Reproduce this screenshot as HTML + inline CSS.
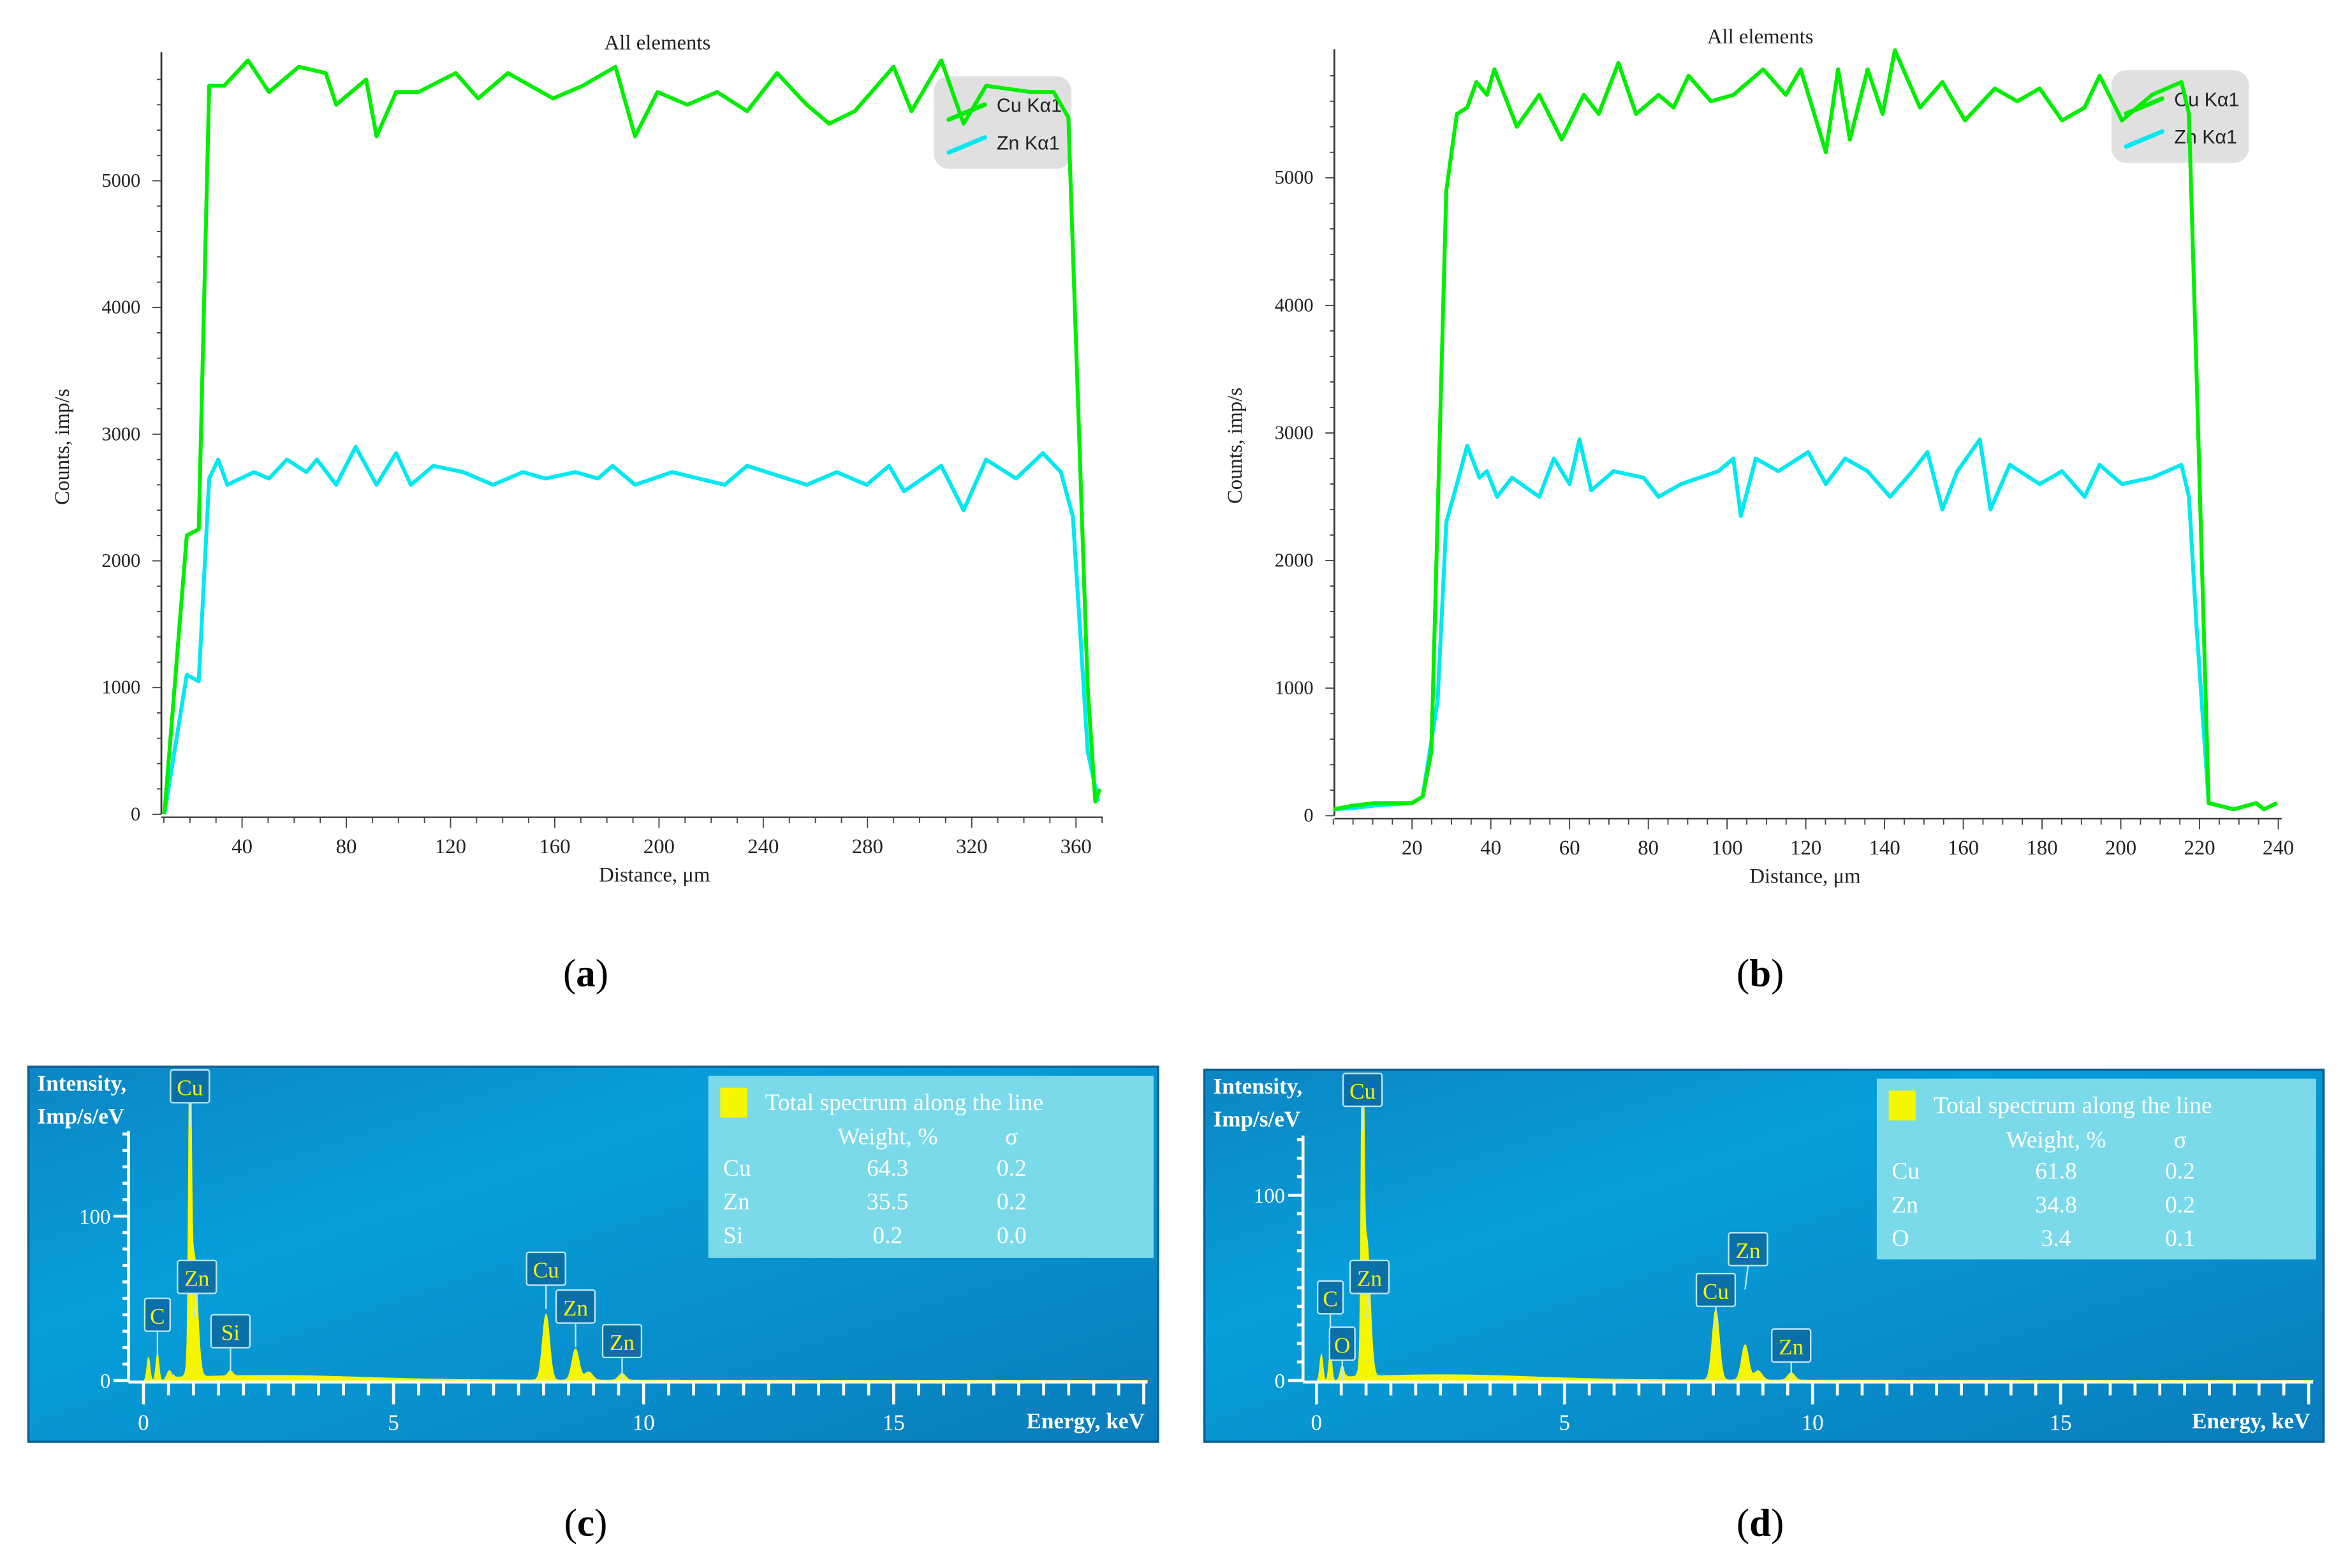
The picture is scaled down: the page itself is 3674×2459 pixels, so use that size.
<!DOCTYPE html>
<html><head><meta charset="utf-8"><style>
html,body{margin:0;padding:0;background:#fff;}
svg{display:block;}
</style></head><body>
<svg id="root" xmlns="http://www.w3.org/2000/svg" width="3674" height="2459" viewBox="0 0 1568 1049.5" preserveAspectRatio="none">
<defs>
<linearGradient id="bg" x1="0" y1="0" x2="1" y2="1">
<stop offset="0" stop-color="#0c86c4"/><stop offset="0.35" stop-color="#069fda"/><stop offset="1" stop-color="#0a7cbc"/>
</linearGradient>
</defs>
<g id="panelA"></g>
<g id="panelB"></g>
<g id="panelC"></g>
<g id="panelD"></g>
<text x="392" y="660" font-family="Liberation Serif, serif" font-size="26" text-anchor="middle">(<tspan font-weight="bold">a</tspan>)</text>
<text x="1178" y="660" font-family="Liberation Serif, serif" font-size="26" text-anchor="middle">(<tspan font-weight="bold">b</tspan>)</text>
<text x="392" y="1028" font-family="Liberation Serif, serif" font-size="26" text-anchor="middle">(<tspan font-weight="bold">c</tspan>)</text>
<text x="1178" y="1028" font-family="Liberation Serif, serif" font-size="26" text-anchor="middle">(<tspan font-weight="bold">d</tspan>)</text>
</svg>
<script>
// ---- Panel A data ----
const aCuX=[10.2,18.8,23.4,27.4,33.1,42.3,50.3,61.8,72.1,76.1,87.6,91.6,99.1,107.7,122,130.6,142,159.3,170.7,183.3,190.8,199.4,210.9,222.3,233.8,245.3,256.7,265.3,275.1,290,296.9,308.3,316.9,325.5,342.7,351.4,357.1,364.5,367.4,369.1];
const aCuY=[0,2200,2250,5750,5750,5950,5700,5900,5850,5600,5800,5350,5700,5700,5850,5650,5850,5650,5750,5900,5350,5700,5600,5700,5550,5850,5600,5450,5550,5900,5550,5950,5450,5750,5700,5700,5500,1000,100,200];
const aZnX=[10.2,18.8,23.4,27.4,30.8,34.3,44.6,50.3,57.2,64.7,68.7,76.1,83.6,91.6,99.1,104.8,113.4,124.9,136.3,147.8,156.4,167.9,176.5,182.2,190.8,205.1,225.2,233.8,256.7,268.2,279.7,288.3,294,308.3,316.9,325.5,337,347.3,354.2,358.8,364.5,368.5];
const aZnY=[0,1100,1050,2650,2800,2600,2700,2650,2800,2700,2800,2600,2900,2600,2850,2600,2750,2700,2600,2700,2650,2700,2650,2750,2600,2700,2600,2750,2600,2700,2600,2750,2550,2750,2400,2800,2650,2850,2700,2350,500,100];
const aXTicks=[40,80,120,160,200,240,280,320,360];
const aYTicks=[0,1000,2000,3000,4000,5000];
// ---- Panel B data ----
const bCuX=[0,5,10.5,20,22.7,24.9,28.7,31.4,34,36.3,39,40.9,46.6,52.3,58,63.6,67.4,72.4,76.9,82.6,86.4,90.2,95.9,101.6,109.2,114.9,118.7,125.1,128.2,131.2,135.7,139.5,142.6,149,154.7,160.4,168,173.7,179.4,185.1,190.8,194.6,200.3,207.9,215.4,217.3,219.2,222.3,228.7,234.4,236.3,239.7];
const bCuY=[50,80,100,100,150,500,4900,5500,5550,5750,5650,5850,5400,5650,5300,5650,5500,5900,5500,5650,5550,5800,5600,5650,5850,5650,5850,5200,5850,5300,5850,5500,6000,5550,5750,5450,5700,5600,5700,5450,5550,5800,5450,5650,5750,5500,3500,100,50,100,50,100];
const bZnX=[0,5,10.5,20,22.7,26.5,28.7,31.4,34,37.1,39,41.6,45.4,52.3,56,60,62.5,65.5,71.2,78.8,82.6,88.3,97.8,101.6,103.5,107.3,113,120.6,125.1,130,135.7,141.4,147.1,150.9,154.7,158.5,164.2,166.9,171.8,179.4,185.1,190.8,194.6,200.3,207.9,215.4,217.3,219.2,222.3,228.7,234.4,236.3,239.7];
const bZnY=[50,60,80,100,150,900,2300,2600,2900,2650,2700,2500,2650,2500,2800,2600,2950,2550,2700,2650,2500,2600,2700,2800,2350,2800,2700,2850,2600,2800,2700,2500,2700,2850,2400,2700,2950,2400,2750,2600,2700,2500,2750,2600,2650,2750,2500,1500,100,50,100,50,100];
const bXTicks=[20,40,60,80,100,120,140,160,180,200,220,240];
const bYTicks=[0,1000,2000,3000,4000,5000];
// ---- Spectra data (energy keV, height, width) ----
const cPeakE=[0.1,0.28,0.52,0.93,1.01,1.74,8.05,8.64,8.9,9.57];
const cPeakH=[14,16,6,185,75,3,40,19,5,4];
const cPeakW=[0.03,0.03,0.05,0.025,0.07,0.05,0.07,0.07,0.08,0.07];
const cLabels=["C","Cu","Zn","Si","Cu","Zn","Zn"];
const cLabelE=[0.28,0.93,1.01,1.74,8.05,8.64,9.57];
const cLabelV=[30,169,53,20,58,35,14];
const cTable=[["Cu","64.3","0.2"],["Zn","35.5","0.2"],["Si","0.2","0.0"]];
const dPeakE=[0.1,0.28,0.52,0.93,1.01,8.05,8.64,8.9,9.57];
const dPeakH=[14,16,8,185,75,38,19,5,4];
const dPeakW=[0.03,0.03,0.04,0.025,0.07,0.07,0.07,0.08,0.07];
const dLabels=["C","O","Cu","Zn","Cu","Zn","Zn"];
const dLabelE=[0.28,0.52,0.93,1.01,8.05,8.64,9.57];
const dLabelV=[36,11,148,47,40,62,10];
const dTable=[["Cu","61.8","0.2"],["Zn","34.8","0.2"],["O","3.4","0.1"]];
const sXTicks=[0,5,10,15];

const NS="http://www.w3.org/2000/svg";
function mk(parent,tag,attrs,text){const e=document.createElementNS(NS,tag);for(const k in attrs)e.setAttribute(k,attrs[k]);if(text!==undefined)e.textContent=text;parent.appendChild(e);return e;}
const SERIF="Liberation Serif, serif", SANS="Liberation Sans, sans-serif";

function linescan(g,cfg){
  const sx=v=>cfg.x0px+(v-cfg.x0)*cfg.kx, sy=v=>cfg.y0px-v*cfg.ky;
  const ax=mk(g,'line',{x1:cfg.axX,y1:cfg.top,x2:cfg.axX,y2:cfg.y0px,stroke:'#333','stroke-width':1.2});
  
  for(let v=0;v<=cfg.ymax;v+=200){const t=mk(g,'line',{x1:cfg.axX-(v%1000==0?6:3),y1:sy(v),x2:cfg.axX,y2:sy(v),stroke:'#444','stroke-width':0.8});}
  cfg.yTicks.forEach(v=>{const t=mk(g,'text',{x:cfg.axX-14,y:sy(v)+4,'font-family':SERIF,'font-size':13,'text-anchor':'end',fill:'#222'},String(v));});
  const bx=mk(g,'line',{x1:cfg.axX,y1:cfg.y0px+2,x2:cfg.xEnd,y2:cfg.y0px+2,stroke:'#333','stroke-width':1});
  
  for(let v=cfg.minorStart;sx(v)<=cfg.xEnd;v+=cfg.minor){const major=cfg.xTicks.includes(v);const t=mk(g,'line',{x1:sx(v),y1:cfg.y0px+2,x2:sx(v),y2:cfg.y0px+(major?9:6),stroke:'#444','stroke-width':0.8});}
  cfg.xTicks.forEach(v=>{const t=mk(g,'text',{x:sx(v),y:cfg.y0px+26,'font-family':SERIF,'font-size':14,'text-anchor':'middle',fill:'#222'},String(v));});
  let t=mk(g,'text',{x:cfg.titleX,y:cfg.titleY,'font-family':SERIF,'font-size':14,'text-anchor':'middle',fill:'#222'},'All elements');
  t=mk(g,'text',{x:cfg.xlabX,y:cfg.y0px+45,'font-family':SERIF,'font-size':14,'text-anchor':'middle',fill:'#222'},'Distance, μm');
  t=mk(g,'text',{x:0,y:0,'font-family':SERIF,'font-size':14,'text-anchor':'middle',fill:'#222',transform:`translate(${cfg.axX-62},${sy(2900)}) rotate(-90)`},'Counts, imp/s');
  const L=cfg.leg;
  const lb=mk(g,'rect',{x:L[0],y:L[1],width:92,height:62,rx:10,fill:'#e0e0e0'});
  let e=mk(g,'line',{x1:L[0]+10,y1:L[1]+29,x2:L[0]+34,y2:L[1]+19,stroke:'#00ee00','stroke-width':3,'stroke-linecap':'round'});
  e=mk(g,'text',{x:L[0]+42,y:L[1]+24,'font-family':SANS,'font-size':13,fill:'#222'},'Cu Kα1');
  e=mk(g,'line',{x1:L[0]+10,y1:L[1]+51,x2:L[0]+34,y2:L[1]+41,stroke:'#00e8f0','stroke-width':3,'stroke-linecap':'round'});
  e=mk(g,'text',{x:L[0]+42,y:L[1]+49,'font-family':SANS,'font-size':13,fill:'#222'},'Zn Kα1');
  const zp=cfg.znX.map((x,i)=>sx(x).toFixed(1)+','+sy(cfg.znY[i]).toFixed(1)).join(' ');
  e=mk(g,'polyline',{points:zp,fill:'none',stroke:'#00e8f0','stroke-width':2.6,'stroke-linejoin':'round'});
  const cp=cfg.cuX.map((x,i)=>sx(x).toFixed(1)+','+sy(cfg.cuY[i]).toFixed(1)).join(' ');
  e=mk(g,'polyline',{points:cp,fill:'none',stroke:'#00ee00','stroke-width':2.6,'stroke-linejoin':'round'});
}
linescan(document.getElementById('panelA'),{x0:40,x0px:162,kx:1.744,y0px:545,ky:0.0848,axX:108,top:35,ymax:5900,xEnd:738,minorStart:10,minor:10,xTicks:aXTicks,yTicks:aYTicks,cuX:aCuX,cuY:aCuY,znX:aZnX,znY:aZnY,leg:[625,51],titleX:440,titleY:33,xlabX:438});
linescan(document.getElementById('panelB'),{x0:20,x0px:945,kx:2.635,y0px:546,ky:0.0854,axX:893,top:33,ymax:5900,xEnd:1527,minorStart:0,minor:5,xTicks:bXTicks,yTicks:bYTicks,cuX:bCuX,cuY:bCuY,znX:bZnX,znY:bZnY,leg:[1413,47],titleX:1178,titleY:29,xlabX:1208});

function spectrum(g,cfg){
  const sx=v=>cfg.x0px+v*cfg.kx, sy=v=>cfg.y0px-v*cfg.ky;
  let e=mk(g,'rect',{x:cfg.box[0],y:cfg.box[1],width:cfg.box[2],height:cfg.box[3],fill:'url(#bg)',stroke:'#0a5f90','stroke-width':1.5});
  const pts=[];const emax=(cfg.xEnd-cfg.x0px)/cfg.kx;
  for(let E=0.02;E<=emax;E+=0.01){
    let v=0;
    if(E>0.6) v+= 2.6*Math.exp(-Math.pow((E-2.6)/2.5,2))+0.5*Math.exp(-(E-2)/8);
    cfg.pe.forEach((p,i)=>{v+=cfg.ph[i]*Math.exp(-Math.pow((E-p)/cfg.pw[i],2)/2);});
    pts.push(sx(E).toFixed(2)+','+Math.max(cfg.top,sy(v)).toFixed(2));
  }
  e=mk(g,'polygon',{points:sx(0.02)+','+cfg.y0px+' '+pts.join(' ')+' '+sx(emax)+','+cfg.y0px,fill:'#f6f600',stroke:'#f6f600','stroke-width':0.6});
  e=mk(g,'line',{x1:cfg.axX,y1:cfg.axTop,x2:cfg.axX,y2:cfg.y0px,stroke:'#fff','stroke-width':2});
  for(let v=0;sy(v)>=cfg.axTop;v+=10){e=mk(g,'line',{x1:cfg.axX-(v%100==0?10:4),y1:sy(v),x2:cfg.axX,y2:sy(v),stroke:'#fff','stroke-width':2});}
  [0,100].forEach(v=>{e=mk(g,'text',{x:cfg.axX-12,y:sy(v)+5,'font-family':SERIF,'font-size':14,'text-anchor':'end',fill:'#fff'},String(v));});
  e=mk(g,'line',{x1:cfg.axX,y1:cfg.y0px+1,x2:cfg.xEnd,y2:cfg.y0px+1,stroke:'#fff','stroke-width':2});
  for(let v=0;sx(v)<=cfg.xEnd+1;v+=0.5){const maj=Math.abs(v%5)<1e-6;e=mk(g,'line',{x1:sx(v),y1:cfg.y0px+1,x2:sx(v),y2:cfg.y0px+(maj?16:10),stroke:'#fff','stroke-width':2});}
  sXTicks.forEach(v=>{e=mk(g,'text',{x:sx(v),y:cfg.y0px+33,'font-family':SERIF,'font-size':15,'text-anchor':'middle',fill:'#fff'},String(v));});
  e=mk(g,'text',{x:cfg.xEnd-2,y:cfg.y0px+32,'font-family':SERIF,'font-size':15,'font-weight':'bold','text-anchor':'end',fill:'#fff'},'Energy, keV');
  e=mk(g,'text',{x:cfg.box[0]+6,y:cfg.box[1]+16,'font-family':SERIF,'font-size':15,'font-weight':'bold',fill:'#fff'},'Intensity,');
  e=mk(g,'text',{x:cfg.box[0]+6,y:cfg.box[1]+38,'font-family':SERIF,'font-size':15,'font-weight':'bold',fill:'#fff'},'Imp/s/eV');
  cfg.labels.forEach((l,i)=>{
    const cx=sx(cfg.lE[i])+(cfg.lOff?cfg.lOff[i]:0), cy=sy(cfg.lV[i]);
    const w=l.length*9+8,h=22;
    const gg=mk(g,'g',{});
    mk(gg,'line',{x1:cx,y1:cy,x2:sx(cfg.lE[i]),y2:Math.min(cy+16,cfg.y0px),stroke:'#bfe6f6','stroke-width':1});
    mk(gg,'rect',{x:cx-w/2,y:cy-h,width:w,height:h,fill:'#0b6fa8',stroke:'#bfe6f6','stroke-width':1,rx:1.5});
    mk(gg,'text',{x:cx,y:cy-5,'font-family':SERIF,'font-size':15,'text-anchor':'middle',fill:'#f6f600'},l);
  });
  const T=cfg.tab;
  e=mk(g,'rect',{x:T[0],y:T[1],width:T[2],height:T[3],fill:'#7adaea'});
  e=mk(g,'rect',{x:T[0]+8,y:T[1]+8,width:18,height:20,fill:'#f6f600'});
  e=mk(g,'text',{x:T[0]+38,y:T[1]+23,'font-family':SERIF,'font-size':16,fill:'#fff'},'Total spectrum along the line');
  e=mk(g,'text',{x:T[0]+120,y:T[1]+46,'font-family':SERIF,'font-size':16,'text-anchor':'middle',fill:'#fff'},'Weight, %');
  e=mk(g,'text',{x:T[0]+203,y:T[1]+46,'font-family':SERIF,'font-size':16,'text-anchor':'middle',fill:'#fff'},'σ');
  cfg.table.forEach((r,i)=>{const y=T[1]+67+i*22.5;
    e=mk(g,'text',{x:T[0]+10,y:y,'font-family':SERIF,'font-size':16,fill:'#fff'},r[0]);
    e=mk(g,'text',{x:T[0]+120,y:y,'font-family':SERIF,'font-size':16,'text-anchor':'middle',fill:'#fff'},r[1]);
    e=mk(g,'text',{x:T[0]+203,y:y,'font-family':SERIF,'font-size':16,'text-anchor':'middle',fill:'#fff'},r[2]);
  });
}
spectrum(document.getElementById('panelC'),{box:[19,714,756,251],x0px:96,kx:33.47,y0px:924,ky:1.1,top:718,axX:86,axTop:757,xEnd:768,pe:cPeakE,ph:cPeakH,pw:cPeakW,labels:cLabels,lE:cLabelE,lV:cLabelV,lOff:[0,0,2,0,0,0,0],table:cTable,tab:[474,720,298,122]});
spectrum(document.getElementById('panelD'),{box:[806,716,749,249],x0px:881,kx:33.2,y0px:924,ky:1.24,top:720,axX:872,axTop:760,xEnd:1548,pe:dPeakE,ph:dPeakH,pw:dPeakW,labels:dLabels,lE:dLabelE,lV:dLabelV,lOff:[0,0,0,2,0,2,0],table:dTable,tab:[1256,722,294,121]});
</script>
</body></html>
